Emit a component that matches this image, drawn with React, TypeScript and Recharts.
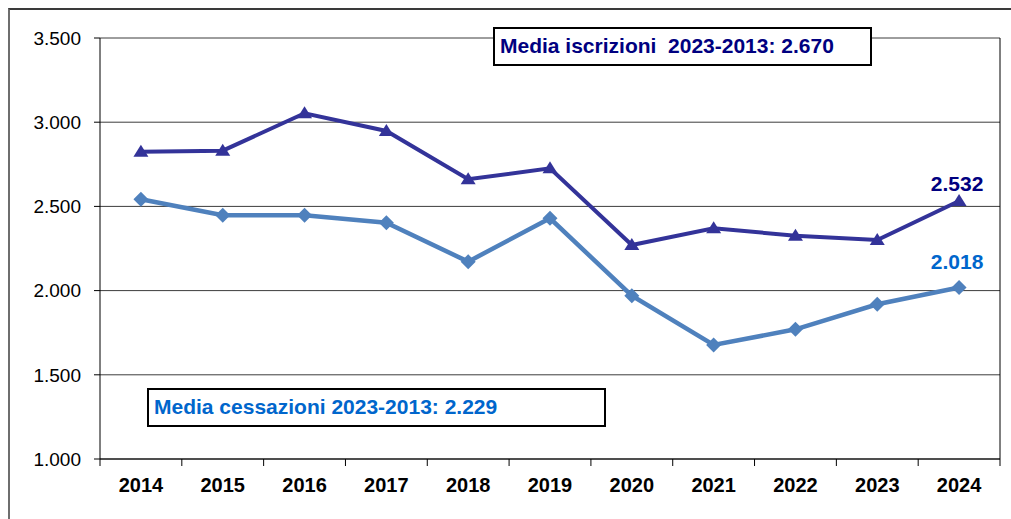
import React from "react";
import {
  LineChart, Line, XAxis, YAxis, CartesianGrid, ReferenceLine,
} from "recharts";

const years = ["2014", "2015", "2016", "2017", "2018", "2019", "2020", "2021", "2022", "2023", "2024"];
const iscrizioni = [2825, 2831, 3053, 2948, 2661, 2726, 2271, 2370, 2326, 2300, 2532];
const cessazioni = [2542, 2447, 2447, 2403, 2172, 2429, 1970, 1677, 1770, 1919, 2018];
const yTicks = [1000, 1500, 2000, 2500, 3000, 3500];

const mediaIscrizioni = "Media iscrizioni  2023-2013: 2.670";
const mediaCessazioni = "Media cessazioni 2023-2013: 2.229";

const data = years.map((y, i) => ({ year: y, iscr: iscrizioni[i], cess: cessazioni[i] }));

const DARK = "#333399";
const LIGHT = "#4F81BD";
const FONT = "'Liberation Sans', Arial, sans-serif";

const W = 1011;
const H = 519;
const PLOT_LEFT = 100;
const PLOT_RIGHT = 1000;
const PLOT_TOP = 38;
const PLOT_BOTTOM = 459;
const HALF_BAND = (PLOT_RIGHT - PLOT_LEFT) / years.length / 2;

const fmtDot = (v: number) => {
  const s = String(v);
  return s.length > 3 ? s.slice(0, -3) + "." + s.slice(-3) : s;
};

const Triangle = (p: any) => {
  if (p.cx == null || p.cy == null) return <g key={p.key} />;
  const { cx, cy } = p;
  return (
    <polygon
      key={p.key}
      points={`${cx},${cy - 7} ${cx + 7.5},${cy + 5} ${cx - 7.5},${cy + 5}`}
      fill={DARK}
    />
  );
};

const Diamond = (p: any) => {
  if (p.cx == null || p.cy == null) return <g key={p.key} />;
  const { cx, cy } = p;
  return (
    <polygon
      key={p.key}
      points={`${cx},${cy - 7.5} ${cx + 7.5},${cy} ${cx},${cy + 7.5} ${cx - 7.5},${cy}`}
      fill={LIGHT}
    />
  );
};

const lastLabel = (color: string, dy: number) => (p: any) => {
  if (p.index !== years.length - 1) return <g key={`l${p.index}`} />;
  return (
    <text
      key={`l${p.index}`}
      x={p.x - 2}
      y={p.y + dy}
      textAnchor="middle"
      fill={color}
      fontFamily={FONT}
      fontWeight="bold"
      fontSize={21}
    >
      {fmtDot(p.value)}
    </text>
  );
};

const YearTick = (p: any) => {
  const { x, y, payload, index } = p;
  return (
    <g>
      <line x1={x - HALF_BAND} x2={x - HALF_BAND} y1={y} y2={y + 7} stroke="#000" />
      {index === years.length - 1 && (
        <line x1={x + HALF_BAND} x2={x + HALF_BAND} y1={y} y2={y + 7} stroke="#000" />
      )}
      <text
        x={x}
        y={y + 33}
        textAnchor="middle"
        fill="#000"
        fontFamily={FONT}
        fontWeight="bold"
        fontSize={20}
      >
        {payload.value}
      </text>
    </g>
  );
};

const boxStyle: React.CSSProperties = {
  position: "absolute",
  boxSizing: "border-box",
  border: "2px solid #000",
  background: "#fff",
  fontFamily: FONT,
  fontWeight: "bold",
  fontSize: 21,
  whiteSpace: "pre",
  paddingLeft: 5,
};

export default function App() {
  return (
    <div style={{ position: "absolute", left: 0, top: 0, width: W, height: H, background: "#fff", overflow: "hidden" }}>
      <div
        style={{
          position: "absolute",
          left: 8,
          top: 8,
          width: W,
          height: H,
          borderLeft: "2px solid #6e6e6e",
          borderTop: "2px solid #3a3a3a",
        }}
      />
      <div style={{ position: "absolute", left: 0, top: 0 }}>
        <LineChart
          width={W}
          height={H}
          data={data}
          margin={{ top: PLOT_TOP, right: W - PLOT_RIGHT, bottom: 0, left: 0 }}
        >
          <CartesianGrid horizontal vertical={false} stroke="#3c3c3c" strokeOpacity={1} />
          <XAxis
            dataKey="year"
            scale="band"
            axisLine={{ stroke: "#000" }}
            tickLine={false}
            tickSize={0}
            tickMargin={0}
            interval={0}
            height={H - PLOT_BOTTOM}
            tick={<YearTick />}
          />
          <YAxis
            type="number"
            domain={[1000, 3500]}
            ticks={yTicks}
            interval={0}
            width={PLOT_LEFT}
            axisLine={{ stroke: "#000" }}
            tickLine={{ stroke: "#000" }}
            tickSize={6}
            tickMargin={13}
            tickFormatter={(v) => fmtDot(v)}
            tick={{ fontSize: 19, fill: "#000", fontFamily: FONT }}
          />
          <ReferenceLine x="2024" position="end" stroke="#000" strokeWidth={1} ifOverflow="visible" />
          <Line
            dataKey="cess"
            stroke={LIGHT}
            strokeWidth={4.5}
            dot={<Diamond />}
            activeDot={false}
            isAnimationActive={false}
            label={lastLabel("#0066CC", -19)}
          />
          <Line
            dataKey="iscr"
            stroke={DARK}
            strokeWidth={4}
            dot={<Triangle />}
            activeDot={false}
            isAnimationActive={false}
            label={lastLabel("#000080", -10)}
          />
        </LineChart>
      </div>
      <div style={{ ...boxStyle, left: 493, top: 27, width: 379, height: 39, color: "#000080", lineHeight: "33px" }}>
        {mediaIscrizioni}
      </div>
      <div style={{ ...boxStyle, left: 147, top: 388, width: 459, height: 39, color: "#0066CC", lineHeight: "33px" }}>
        {mediaCessazioni}
      </div>
    </div>
  );
}
